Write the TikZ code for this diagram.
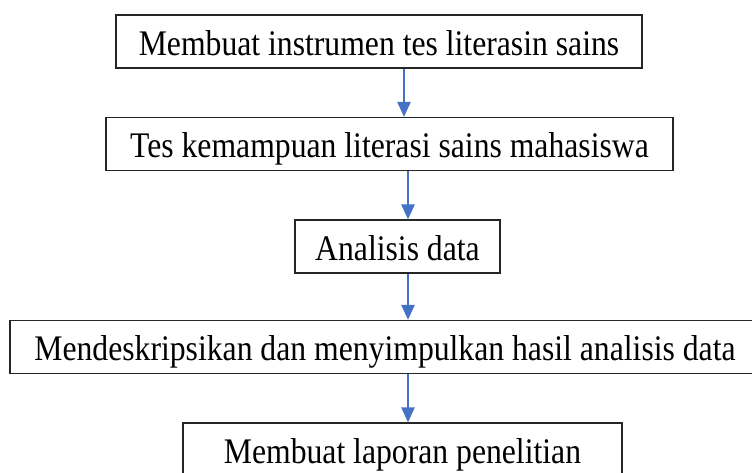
\documentclass[tikz,border=0pt]{standalone}
\usepackage{fontspec}
\setmainfont[FakeStretch=0.88]{Liberation Serif}
\usepackage{tikz}
\usetikzlibrary{arrows.meta,positioning}
\definecolor{flowblue}{HTML}{4472C4}

\begin{document}
\begin{tikzpicture}[x=1pt,y=-1pt,
    stepbox/.style={draw=black!85,line width=1.2pt,inner sep=0pt,minimum height=53pt,
        text height=27pt,text depth=0pt,font=\fontsize{36}{40}\selectfont},
    flow/.style={draw=flowblue,line width=2.4pt,-{Triangle[length=15pt,width=13pt]}}]
            \useasboundingbox (0,0) rectangle (752,472);
            \node[stepbox,minimum width=526pt] (S_1) at (379,41.5) {Membuat instrumen tes literasin sains};
            \node[stepbox,minimum width=567pt] (S_2) at (389.5,144) {Tes kemampuan literasi sains mahasiswa};
            \node[stepbox,minimum width=205pt] (S_3) at (397.5,246.5) {Analisis data};
            \node[stepbox,minimum width=750pt] (S_4) at (385,347) {Mendeskripsikan dan menyimpulkan hasil analisis data};
            \node[stepbox,minimum width=439pt] (S_5) at (402.5,449.5) {Membuat laporan penelitian};
            \draw[flow] ([xshift=25pt]S_1.south) -- ([xshift=25pt]S_1.south |- S_2.north);
            \draw[flow] ([xshift=18.5pt]S_2.south) -- ([xshift=18.5pt]S_2.south |- S_3.north);
            \draw[flow] ([xshift=10.5pt]S_3.south) -- ([xshift=10.5pt]S_3.south |- S_4.north);
            \draw[flow] ([xshift=23pt]S_4.south) -- ([xshift=23pt]S_4.south |- S_5.north);
        \end{tikzpicture}
\end{document}
